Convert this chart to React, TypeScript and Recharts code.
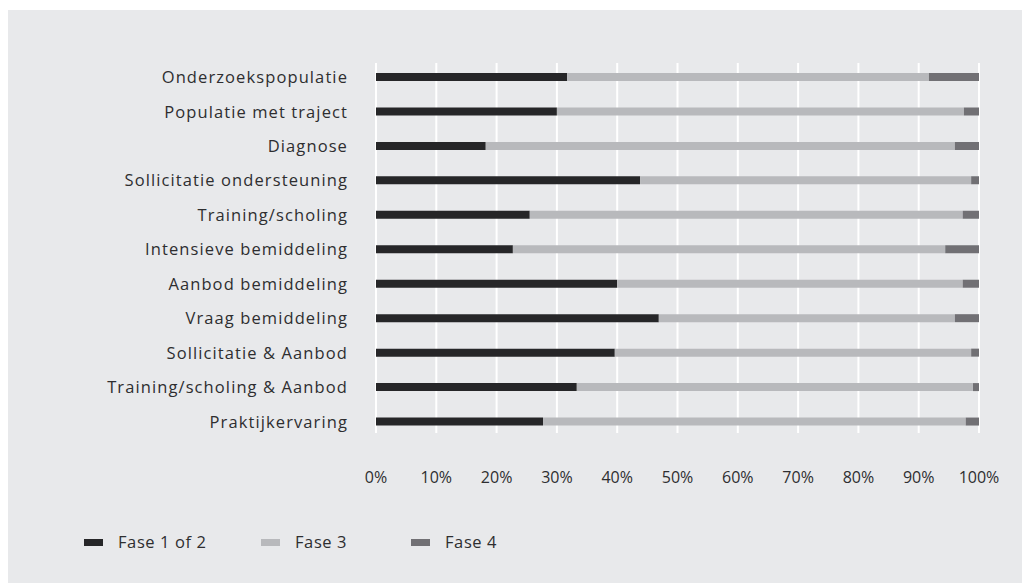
import React from 'react';
import { BarChart, Bar, XAxis, YAxis, CartesianGrid, Legend } from 'recharts';

const categories = [
  'Onderzoekspopulatie',
  'Populatie met traject',
  'Diagnose',
  'Sollicitatie ondersteuning',
  'Training/scholing',
  'Intensieve bemiddeling',
  'Aanbod bemiddeling',
  'Vraag bemiddeling',
  'Sollicitatie & Aanbod',
  'Training/scholing & Aanbod',
  'Praktijkervaring',
];
const fase12 = [31.7, 30.0, 18.2, 43.8, 25.5, 22.7, 40.0, 46.9, 39.6, 33.3, 27.7];
const fase3 = [60.0, 67.5, 77.8, 54.9, 71.8, 71.7, 57.3, 49.1, 59.1, 65.7, 70.1];
const fase4 = [8.3, 2.5, 4.0, 1.3, 2.7, 5.6, 2.7, 4.0, 1.3, 1.0, 2.2];
const xTicks = [0, 10, 20, 30, 40, 50, 60, 70, 80, 90, 100];
const seriesNames = ['Fase 1 of 2', 'Fase 3', 'Fase 4'];

const data = categories.map((name, i) => ({
  name,
  f12: fase12[i],
  f3: fase3[i],
  f4: fase4[i],
}));

const BG = '#e8e9eb';
const TEXT = '#2e2e30';
const COLORS = ['#262628', '#b8b9bc', '#717074'];
const legendX = [76, 253, 403];

const LegendContent = (props: any) => {
  const payload = props.payload || [];
  return (
    <div style={{ position: 'relative', width: 1014, height: 24 }}>
      {payload.map((p: any, i: number) => (
        <div
          key={i}
          style={{
            position: 'absolute',
            left: legendX[i],
            top: 0,
            height: 24,
            display: 'flex',
            alignItems: 'center',
            whiteSpace: 'nowrap',
          }}
        >
          <span style={{ display: 'inline-block', width: 19, height: 7, background: p.color, marginRight: 15 }} />
          <span style={{ fontSize: 16.5, color: TEXT, lineHeight: '24px', letterSpacing: 0.6 }}>{p.value}</span>
        </div>
      ))}
    </div>
  );
};

export default function App() {
  return (
    <div
      style={{
        position: 'absolute',
        left: 8,
        top: 10,
        width: 1014,
        height: 573,
        background: BG,
        fontFamily: '"Open Sans", sans-serif',
      }}
    >
      <BarChart
        width={1014}
        height={573}
        data={data}
        layout="vertical"
        margin={{ top: 50, right: 43, bottom: 0, left: 0 }}
        barCategoryGap={0}
      >
        <CartesianGrid
          horizontal={false}
          vertical={true}
          stroke="#ffffff"
          strokeWidth={2}
          y={53}
          height={370}
        />
        <XAxis
          type="number"
          domain={[0, 100]}
          allowDataOverflow
          ticks={xTicks}
          tickFormatter={(v: number) => `${v}%`}
          axisLine={false}
          tickLine={false}
          tickSize={0}
          tickMargin={33}
          height={144}
          tick={{ fill: TEXT, fontSize: 16 }}
        />
        <YAxis
          type="category"
          dataKey="name"
          width={368}
          axisLine={false}
          tickLine={false}
          tickSize={0}
          tickMargin={28}
          interval={0}
          tick={{ fill: TEXT, fontSize: 16.5, letterSpacing: 1.1 }}
        />
        <Legend
          layout="horizontal"
          verticalAlign="middle"
          align="center"
          content={<LegendContent />}
          wrapperStyle={{ left: 0, top: 520, width: 1014 }}
        />
        <Bar dataKey="f12" name={seriesNames[0]} stackId="a" fill={COLORS[0]} barSize={8} isAnimationActive={false} />
        <Bar dataKey="f3" name={seriesNames[1]} stackId="a" fill={COLORS[1]} barSize={8} isAnimationActive={false} />
        <Bar dataKey="f4" name={seriesNames[2]} stackId="a" fill={COLORS[2]} barSize={8} isAnimationActive={false} />
      </BarChart>
    </div>
  );
}
